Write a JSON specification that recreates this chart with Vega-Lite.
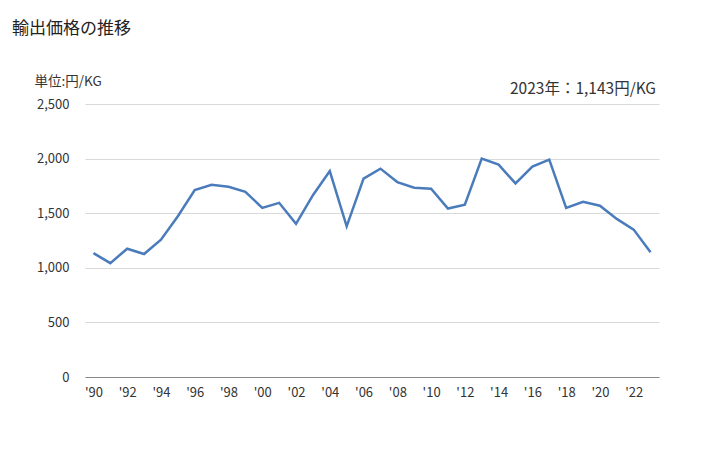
{
  "$schema": "https://vega.github.io/schema/vega-lite/v6.json",
  "autosize": "none",
  "width": 574,
  "height": 273,
  "padding": {"left": 85, "top": 104, "right": 69, "bottom": 73},
  "background": "white",
  "config": {
    "font": "Noto Sans CJK JP",
    "view": {"stroke": null},
    "axis": {"labelFont": "Noto Sans CJK JP", "titleFont": "Noto Sans CJK JP"}
  },
  "title": {
    "text": "輸出価格の推移",
    "anchor": "start",
    "frame": "group",
    "dx": -73,
    "fontSize": 17,
    "fontWeight": "normal",
    "color": "#222222",
    "baseline": "top",
    "dy": -32
  },
  "data": {
    "values": [
      {"year": 1990, "price": 1135},
      {"year": 1991, "price": 1043},
      {"year": 1992, "price": 1175},
      {"year": 1993, "price": 1126},
      {"year": 1994, "price": 1258},
      {"year": 1995, "price": 1472},
      {"year": 1996, "price": 1711},
      {"year": 1997, "price": 1761},
      {"year": 1998, "price": 1742},
      {"year": 1999, "price": 1696},
      {"year": 2000, "price": 1549},
      {"year": 2001, "price": 1595},
      {"year": 2002, "price": 1402},
      {"year": 2003, "price": 1665},
      {"year": 2004, "price": 1886},
      {"year": 2005, "price": 1380},
      {"year": 2006, "price": 1816},
      {"year": 2007, "price": 1908},
      {"year": 2008, "price": 1785},
      {"year": 2009, "price": 1733},
      {"year": 2010, "price": 1724},
      {"year": 2011, "price": 1543},
      {"year": 2012, "price": 1577},
      {"year": 2013, "price": 2000},
      {"year": 2014, "price": 1945},
      {"year": 2015, "price": 1773},
      {"year": 2016, "price": 1926},
      {"year": 2017, "price": 1991},
      {"year": 2018, "price": 1549},
      {"year": 2019, "price": 1604},
      {"year": 2020, "price": 1568},
      {"year": 2021, "price": 1448},
      {"year": 2022, "price": 1350},
      {"year": 2023, "price": 1143}
    ]
  },
  "layer": [
    {
      "mark": {"type": "line", "color": "#4a7bbb", "strokeWidth": 2.5},
      "encoding": {
        "x": {
          "field": "year",
          "type": "ordinal",
          "scale": {"type": "point", "padding": 0.5},
          "axis": {
            "title": null,
            "labelAngle": 0,
            "ticks": false,
            "grid": false,
            "domain": true,
            "domainColor": "#888888",
            "labelPadding": 9,
            "labelFontSize": 13,
            "labelColor": "#333333",
            "labelExpr": "datum.value % 2 == 0 ? \"'\" + slice(toString(datum.value), 2) : ''"
          }
        },
        "y": {
          "field": "price",
          "type": "quantitative",
          "scale": {"domain": [0, 2500], "nice": false},
          "axis": {
            "values": [0, 500, 1000, 1500, 2000, 2500],
            "format": ",d",
            "ticks": false,
            "domain": false,
            "gridColor": "#d9d9d9",
            "labelPadding": 16,
            "labelFontSize": 13,
            "labelColor": "#333333",
            "title": "単位:円/KG",
            "titleAngle": 0,
            "titleAlign": "left",
            "titleBaseline": "alphabetic",
            "titleX": -51,
            "titleY": -19,
            "titleFontSize": 13.5,
            "titleFontWeight": "normal",
            "titleColor": "#333333"
          }
        }
      }
    },
    {
      "data": {"values": [{"year": 2023, "price": 2500, "label": "2023年：1,143円/KG"}]},
      "mark": {"type": "text", "align": "right", "baseline": "alphabetic", "dx": 5.5, "dy": -10, "fontSize": 15.5, "color": "#333333"},
      "encoding": {
        "x": {"field": "year", "type": "ordinal"},
        "y": {"field": "price", "type": "quantitative"},
        "text": {"field": "label"}
      }
    }
  ]
}
